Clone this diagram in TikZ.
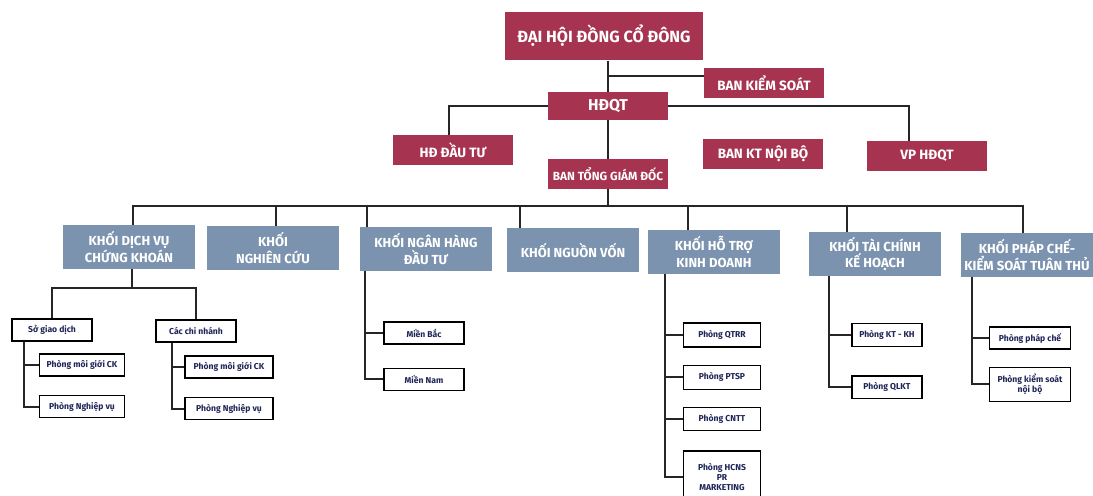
\documentclass[tikz,border=0pt]{standalone}
\usepackage{fontspec}
\setmainfont{Fira Sans}
\usetikzlibrary{positioning,calc}
\definecolor{leadred}{HTML}{A63350}
\definecolor{khoiblue}{HTML}{7C93AF}
\definecolor{phongink}{HTML}{1E2557}

\begin{document}
\begin{tikzpicture}[
x=0.025cm,y=-0.025cm,
node distance=0.45cm,
lead/.style={fill=leadred,text=white,font=\bfseries\fontsize{9.6}{11}\selectfont,minimum width=3cm,minimum height=.74cm,inner sep=1pt,align=center},
khoi/.style={fill=khoiblue,text=white,font=\bfseries\fontsize{9.3}{11.6}\selectfont,minimum width=3.3cm,minimum height=1.08cm,inner sep=1pt,align=center},
phong/.style={draw,line width=1.1pt,fill=white,text=phongink,font=\bfseries\fontsize{6.1}{7.2}\selectfont,minimum width=2cm,minimum height=.55cm,inner sep=1pt,align=center},
link/.style={line width=1.5pt,black!85}
]
\useasboundingbox (0,0) rectangle (1093,495);

% lanh dao
\node[lead,minimum width=4.95cm,minimum height=1.22cm,font=\bfseries\fontsize{11.5}{13}\selectfont] (dhcd) at (604,36) {ĐẠI HỘI ĐỒNG CỔ ĐÔNG};
\node[lead] (bks) at (764,83) {BAN KIỂM SOÁT};
\node[lead,minimum height=.7cm,font=\bfseries\fontsize{11.2}{13}\selectfont] (hdqt) at (608,106) {HĐQT};
\node[lead] (hddt) at (453,150) {HĐ ĐẦU TƯ};
\node[lead,font=\bfseries\fontsize{8.4}{10}\selectfont] (btgd) at (608,174) {BAN TỔNG GIÁM ĐỐC};
\node[lead] (bktnb) at (763,154) {BAN KT NỘI BỘ};
\node[lead] (vphdqt) at (927,156) {VP HĐQT};

% cac khoi
\node[khoi] (kdv) at (129,247) {KHỐI DỊCH VỤ\\CHỨNG KHOÁN};
\node[khoi] (knc) at (273,248) {KHỐI\\NGHIÊN CỨU};
\node[khoi] (knh) at (426,249) {KHỐI NGÂN HÀNG\\ĐẦU TƯ};
\node[khoi] (knv) at (573,250) {KHỐI NGUỒN VỐN};
\node[khoi] (kht) at (714,252) {KHỐI HỖ TRỢ\\KINH DOANH};
\node[khoi] (ktc) at (875,254) {KHỐI TÀI CHÍNH\\KẾ HOẠCH};
\node[khoi] (kpc) at (1027,255) {KHỐI PHÁP CHẾ-\\KIỂM SOÁT TUÂN THỦ};

% phong ban
\node[phong] (sgd) at (52,330) {Sở giao dịch};
\node[phong] (ccn) at (196,331) {Các chi nhánh};
\node[phong,minimum width=2.13cm] (mg1) at (82,365) {Phòng môi giới CK};
\node[phong,minimum width=2.13cm,below=of mg1] (nv1) {Phòng Nghiệp vụ};
\node[phong,minimum width=2.2cm] (mg2) at (229,367) {Phòng môi giới CK};
\node[phong,minimum width=2.2cm,below=of mg2] (nv2) {Phòng Nghiệp vụ};
\node[phong] (mb) at (424,333) {Miền Bắc};
\node[phong,below=0.57cm of mb] (mn) {Miền Nam};
\node[phong,minimum width=1.93cm,minimum height=.6cm] (qtrr) at (722,335) {Phòng QTRR};
\node[phong,minimum width=1.93cm,minimum height=.6cm,below=0.42cm of qtrr] (ptsp) {Phòng PTSP};
\node[phong,minimum width=1.93cm,minimum height=.57cm,below=0.42cm of ptsp] (cntt) {Phòng CNTT};
\node[phong,minimum width=1.93cm,minimum height=1.3cm,below=0.47cm of cntt] (hcns) {Phòng HCNS\\PR\\MARKETING};
\node[phong,minimum width=1.75cm,minimum height=.58cm] (ktkh) at (887,335) {Phòng KT - KH};
\node[phong,minimum width=1.75cm,minimum height=.56cm,below=0.7cm of ktkh] (qlkt) {Phòng QLKT};
\node[phong,minimum width=2.03cm] (ppc) at (1030,338) {Phòng pháp chế};
\node[phong,minimum width=2.03cm,minimum height=.85cm,below=0.42cm of ppc] (ksnb) {Phòng kiểm soát\\nội bộ};

% duong noi cap tren
\draw[link] (dhcd.south -| hdqt) -- (hdqt.north);
\draw[link] ($(bks.west)+(0,-7)$) -| (hdqt.north);
\draw[link] (hdqt.west) -| ($(hddt.north)+(-4,0)$);
\draw[link] (hdqt.east) -| ($(vphdqt.north)+(-18,0)$);
\draw[link] ($(bktnb.north)+(6,0)$) -- ($(bktnb.north)+(6,0)$ |- hdqt.east);
\draw[link] (hdqt) -- (btgd);

% duong noi cac khoi
\coordinate (bus) at (608,206);
\draw[link] (btgd) -- (bus);
\draw[link] ($(kdv.north)+(4,0)$) |- (bus) -| ($(kpc.north)+(-4,0)$);
\foreach \k/\dx in {knc/3,knh/-59,knv/-53,kht/-26,ktc/-28}{
  \coordinate (drop) at ($(\k.north)+(\dx,0)$);
  \draw[link] (drop) -- (drop |- bus);
}

% duong noi phong ban
\coordinate (kdvsplit) at ($(kdv.south)+(3,19)$);
\draw[link] (kdv.south -| kdvsplit) -- (kdvsplit);
\draw[link] (sgd.north) |- (kdvsplit) -| (ccn.north);
\foreach \p/\c/\d in {sgd/mg1/13,sgd/nv1/13,ccn/mg2/17,ccn/nv2/17,knh/mb/5,knh/mn/5,kht/qtrr/17,kht/ptsp/17,kht/cntt/17,kht/hcns/17,ktc/ktkh/20,ktc/qlkt/20,kpc/ppc/11,kpc/ksnb/11}
  \draw[link] ($(\p.south west)+(\d,0)$) |- (\c.west);
\end{tikzpicture}
\end{document}
